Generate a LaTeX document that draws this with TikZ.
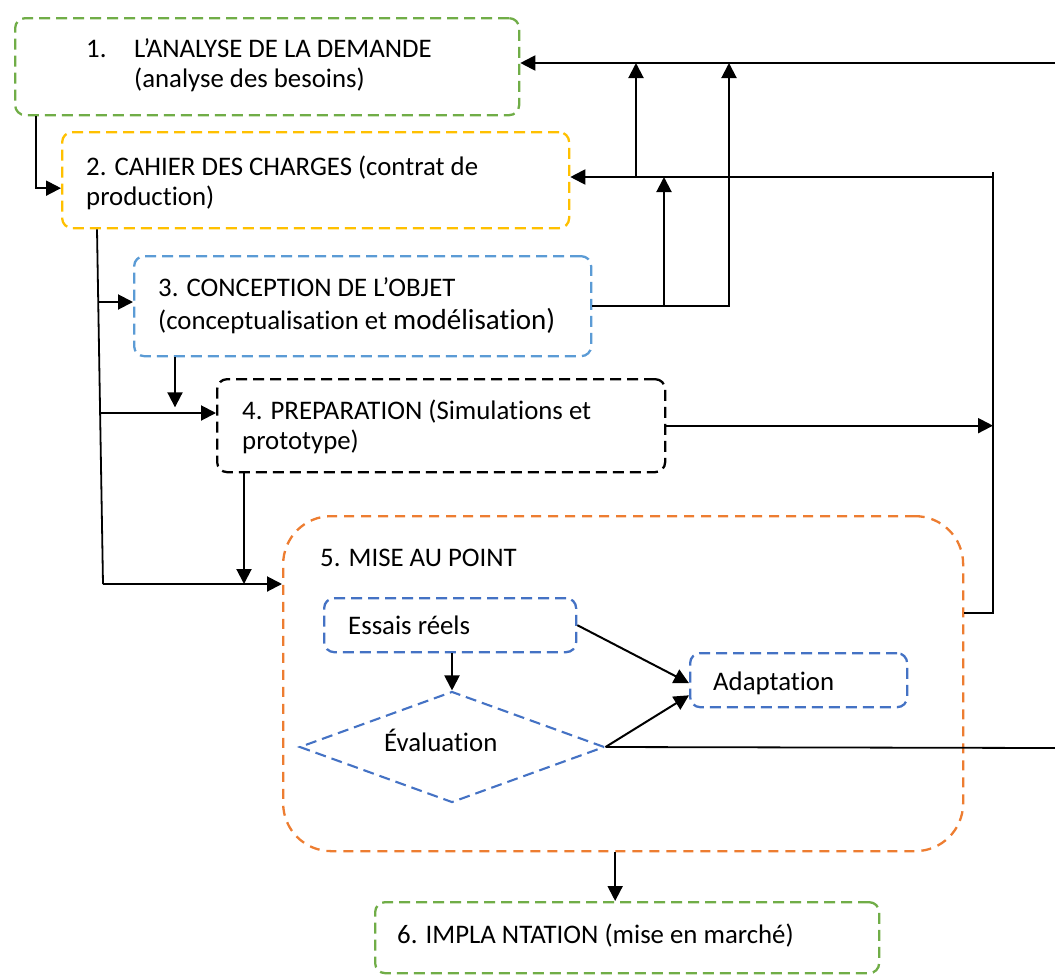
\documentclass[tikz,border=0pt]{standalone}
\usepackage{fontspec}
\setmainfont[Ligatures=NoCommon]{Carlito}
\usetikzlibrary{arrows.meta,shapes.geometric}
\definecolor{cgreen}{HTML}{70AD47}
\definecolor{cyellow}{HTML}{FFC000}
\definecolor{clblue}{HTML}{5B9BD5}
\definecolor{cblue}{HTML}{4472C4}
\definecolor{corange}{HTML}{ED7D31}
\newcommand\twolines[2]{\begin{tabular}[t]{@{}l@{}}#1\\#2\end{tabular}}

\begin{document}
\begin{tikzpicture}[x=1pt,y=-1pt,
  box/.style={draw, rectangle, rounded corners=10pt, line width=2.3pt,
    dash pattern=on 11pt off 6pt, inner sep=0pt, anchor=north west},
  txt/.style={anchor=base west, inner sep=0pt, font=\fontsize{26.8}{30.5}\selectfont},
  arr/.style={line width=2pt, -{Triangle[length=15pt,width=15pt]}},
  wire/.style={line width=1.8pt}]
\useasboundingbox (0,0) rectangle (1055,975);

% stage boxes
\node[box, draw=cgreen, minimum width=504pt, minimum height=97pt] (b1) at (14,17) {};
\node[box, draw=cyellow, minimum width=507pt, minimum height=96pt] (b2) at (61,131) {};
\node[box, draw=clblue, minimum width=457pt, minimum height=100pt] (b3) at (133,255) {};
\node[box, draw=black, minimum width=448pt, minimum height=93pt] (b4) at (216,378) {};
\node[box, draw=corange, rounded corners=48pt, minimum width=680pt, minimum height=335pt,
  dash pattern=on 10pt off 7pt] (b5) at (282,515) {};
\node[box, draw=cblue, minimum width=252pt, minimum height=54pt] (ess) at (323,597) {};
\node[box, draw=cblue, minimum width=217pt, minimum height=54pt] (adap) at (689,652) {};
\node[draw=cblue, diamond, line width=2.1pt, dash pattern=on 11pt off 6pt,
  minimum width=305pt, minimum height=111pt, inner sep=0pt] (dia) at (452,747) {};
\node[box, draw=cgreen, minimum width=504pt, minimum height=71pt] (b6) at (374,901) {};

% labels
\node[txt] (t1) at (86,57) {\begin{tabular}[t]{@{}p{48pt}@{}l@{}}1. & L’ANALYSE DE LA DEMANDE\\ & (analyse des besoins)\end{tabular}};
\node[txt] (t2) at (86,175) {\twolines{2. CAHIER DES CHARGES (contrat de}{production)}};
\node[txt] (t3) at (158,296) {\begin{tabular}[t]{@{}l@{}}3. CONCEPTION DE L’OBJET\\[3pt](conceptualisation et {\fontsize{29}{30}\selectfont modélisation)}\end{tabular}};
\node[txt] (t4) at (242,419) {\twolines{4. PREPARATION (Simulations et}{prototype)}};
\node[txt] (t5) at (320,566) {5. MISE AU POINT};
\node[txt] (t6) at (348,634) {Essais réels};
\node[txt] (t7) at (713,690) {Adaptation};
\node[txt] (t8) at (384,751) {Évaluation};
\node[txt] (t9) at (397,943) {6. IMPLA NTATION (mise en marché)};

% junction points of the feedback network
\coordinate (e1) at (1055,63);
\coordinate (e2) at (1055,748);
\coordinate (j1) at (993,177);
\coordinate (j2) at (993,613);
\coordinate (u1) at (636,177);
\coordinate (u2) at (664,305);
\coordinate (u3) at (729,305);
\coordinate (s1) at ([xshift=36pt]b2.south west);
\coordinate (s2) at (103,584);
\coordinate (br1) at (98,302);
\coordinate (br2) at (100,413);

% feedback lines
\draw[arr] (e1) -- (b1.east |- e1);
\draw[wire] ([yshift=5pt]j1) -- (j2) -- (b5.east |- j2);
\draw[arr] (j1) -- (b2.east |- j1);
\draw[arr] (u1) -- (u1 |- e1);
\draw[arr] (b3.east) -| (u3 |- e1);
\draw[arr] (b3.east -| u2) -- (u2 |- j1);
\draw[arr] (b4.east) -- (b4.east -| j1);

% forward flow
\draw[arr] ([xshift=22pt]b1.south west) |- ([yshift=-8pt]b2.west);
\draw[wire] (s1) -- (s2);
\draw[arr] (s2) -- (b5.west |- s2);
\draw[arr] (br1) -- (b3.west |- br1);
\draw[arr] (br2) -- (b4.west |- br2);
\draw[arr] ([xshift=42pt]b3.south west) -- ++(0,50);
\draw[arr] ([xshift=28pt]b4.south west) -- ([xshift=28pt]b4.south west |- s2);
\draw[arr] ([xshift=-8pt]b5.south) -- ([xshift=-8pt]b5.south |- b6.north);

% inside the tuning stage
\draw[arr] (ess.south -| dia.north) -- (dia.north);
\draw[arr] (ess.east) -- ([yshift=-3pt]adap.west);
\draw[arr] (dia.east) -- ([yshift=13pt]adap.south west);
\draw[wire] (dia.east) -- (e2);
\end{tikzpicture}
\end{document}
